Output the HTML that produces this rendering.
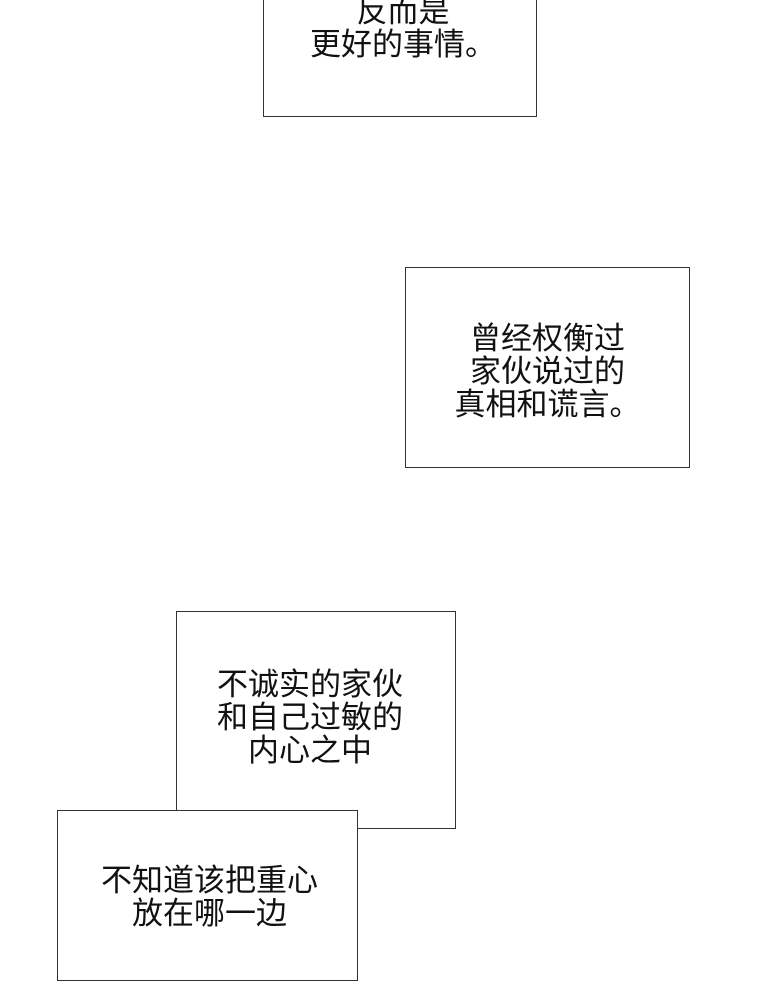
<!DOCTYPE html>
<html><head><meta charset="utf-8"><style>
html,body{margin:0;padding:0;background:#fff;}
body{width:780px;height:989px;position:relative;overflow:hidden;font-family:"Liberation Sans","Noto Sans CJK SC",sans-serif;color:#111;}
.b{position:absolute;border:1px solid #333;background:#fff;box-sizing:border-box;}
.t{position:absolute;font-size:31px;line-height:33px;text-align:center;white-space:nowrap;}
</style></head><body>
<div class="b" style="left:263px;top:-10px;width:274px;height:127px;"></div>
<div class="t" style="left:266px;width:274px;top:-5px;">反而是<br>更好的事情。</div>

<div class="b" style="left:405px;top:267px;width:285px;height:201px;"></div>
<div class="t" style="left:405px;width:285px;top:322px;">曾经权衡过<br>家伙说过的<br>真相和谎言。</div>

<div class="b" style="left:176px;top:611px;width:280px;height:218px;"></div>
<div class="t" style="left:176px;width:268px;top:668px;">不诚实的家伙<br>和自己过敏的<br>内心之中</div>

<div class="b" style="left:57px;top:810px;width:301px;height:171px;"></div>
<div class="t" style="left:59px;width:301px;top:864px;">不知道该把重心<br>放在哪一边</div>
</body></html>
